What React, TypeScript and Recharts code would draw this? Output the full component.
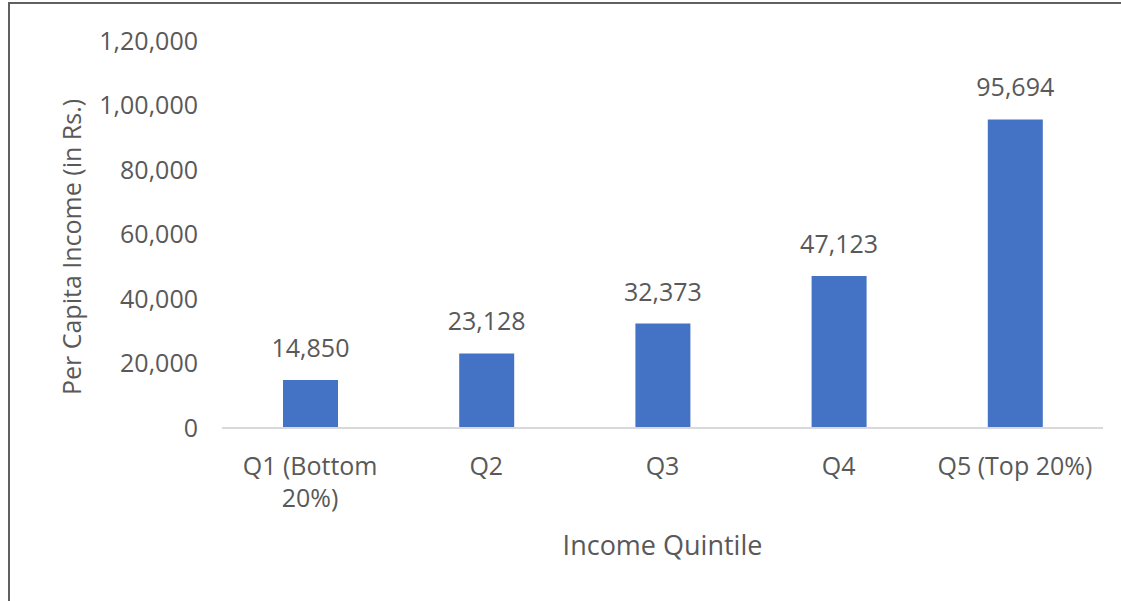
import React from "react";
import { BarChart, Bar, XAxis, YAxis, LabelList } from "recharts";

const categories = ["Q1 (Bottom 20%)", "Q2", "Q3", "Q4", "Q5 (Top 20%)"];
const incomeValues = [14850, 23128, 32373, 47123, 95694];
const yTicks = [0, 20000, 40000, 60000, 80000, 100000, 120000];

const data = categories.map((c, i) => ({ name: c, value: incomeValues[i] }));

const FONT = "'Open Sans', sans-serif";
const TEXT = "#595959";

function indian(n: number): string {
  const s = Math.round(n).toString();
  if (s.length <= 3) return s;
  const last3 = s.slice(-3);
  let rest = s.slice(0, -3);
  const parts: string[] = [];
  while (rest.length > 2) {
    parts.unshift(rest.slice(-2));
    rest = rest.slice(0, -2);
  }
  if (rest.length) parts.unshift(rest);
  return parts.join(",") + "," + last3;
}

function wrap(label: string, max: number): string[] {
  const words = label.split(" ");
  const lines: string[] = [];
  let cur = "";
  for (const w of words) {
    const next = cur ? cur + " " + w : w;
    if (next.length > max && cur) {
      lines.push(cur);
      cur = w;
    } else cur = next;
  }
  if (cur) lines.push(cur);
  return lines;
}

const XTick = (props: any) => {
  const { x, y, payload } = props;
  const lines = wrap(String(payload.value), 12);
  return (
    <text x={x} y={y} textAnchor="middle" fill={TEXT} fontFamily={FONT} fontSize={25}>
      {lines.map((l, i) => (
        <tspan key={i} x={x} y={y + 39 + i * 32}>
          {l}
        </tspan>
      ))}
    </text>
  );
};

export default function App() {
  return (
    <div style={{ position: "absolute", left: 0, top: 0, width: 1121, height: 601, background: "#fff", overflow: "hidden" }}>
      <div
        style={{
          position: "absolute",
          left: 8,
          top: 2,
          width: 1130,
          height: 620,
          borderTop: "2px solid #606060",
          borderLeft: "2px solid #606060",
        }}
      />
      <div style={{ position: "absolute", left: 0, top: 0 }}>
        <BarChart
          width={1121}
          height={601}
          data={data}
          margin={{ top: 41, right: 18, bottom: 143, left: 0 }}
        >
          <XAxis
            dataKey="name"
            axisLine={{ stroke: "#d9d9d9", strokeWidth: 2 }}
            tickLine={false}
            tick={<XTick />}
            interval={0}
            label={{
              content: (p: any) => {
                const vb = p.viewBox;
                return (
                  <text
                    x={vb.x + vb.width / 2}
                    y={555}
                    textAnchor="middle"
                    fill={TEXT}
                    fontFamily={FONT}
                    fontSize={27}
                  >
                    Income Quintile
                  </text>
                );
              },
            }}
          />
          <YAxis
            width={222}
            domain={[0, 120000]}
            ticks={yTicks}
            axisLine={false}
            tickLine={false}
            tickSize={0}
            tickMargin={24}
            tickFormatter={(v: number) => indian(v)}
            tick={{ fill: TEXT, fontFamily: FONT, fontSize: 25 }}
            label={{
              content: () => (
                <text
                  x={0}
                  y={0}
                  transform="translate(81 247) rotate(-90)"
                  textAnchor="middle"
                  fill={TEXT}
                  fontFamily={FONT}
                  fontSize={25}
                >
                  Per Capita Income (in Rs.)
                </text>
              ),
            }}
          />
          <Bar dataKey="value" fill="#4472c4" barSize={55} isAnimationActive={false}>
            <LabelList
              dataKey="value"
              position="top"
              offset={23}
              formatter={(v: any) => indian(Number(v))}
              fill={TEXT}
              fontFamily={FONT}
              fontSize={25}
            />
          </Bar>
        </BarChart>
      </div>
    </div>
  );
}
